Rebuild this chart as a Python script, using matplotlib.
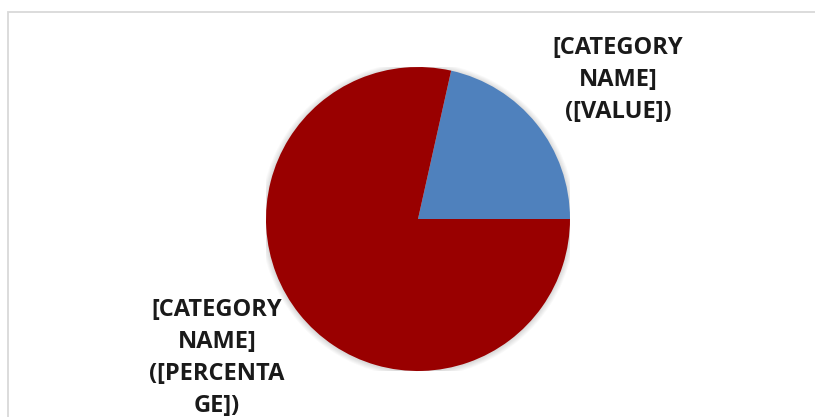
import matplotlib.pyplot as plt
from matplotlib.patches import Rectangle, Circle

# Pie data (two categories, placeholder labels)
categories = ["[CATEGORY\nNAME]\n([VALUE])", "[CATEGORY\nNAME]\n([PERCENTA\nGE])"]
values = [21.5, 78.5]
colors = ["#4F81BD", "#990000"]

W, H = 815, 417
fig = plt.figure(figsize=(W / 100, H / 100), dpi=100)
fig.patch.set_facecolor("white")

# chart frame (light grey border running off the right/bottom edges)
fig.patches.append(Rectangle((8 / W, -0.1), 1.2, (H - 12) / H + 0.1,
                             transform=fig.transFigure, fill=False,
                             edgecolor="#d9d9d9", linewidth=1.3))

cx, cy, r = 418, H - 219, 152
ax = fig.add_axes([(cx - r) / W, (cy - r) / H, 2 * r / W, 2 * r / H])

# soft shadow around the pie
for k in range(1, 7):
    ax.add_patch(Circle((0, -0.004), 1 + k * 0.006, color="black",
                        alpha=0.025, lw=0, zorder=0))

wedges, _ = ax.pie(values, colors=colors, startangle=0, counterclock=True,
                   radius=1, wedgeprops=dict(linewidth=0))
for w in wedges:
    w.set_zorder(2)
ax.set_xlim(-1, 1)
ax.set_ylim(-1, 1)
ax.set_aspect("equal")
ax.axis("off")

font = dict(family=["Open Sans", "DejaVu Sans"], fontweight="bold", fontsize=17,
            color="#1a1a1a", ha="center", va="center", linespacing=1.43)
fig.text(618 / W, 1 - 80 / H, categories[0], **font)
fig.text(217 / W, 1 - 358 / H, categories[1], **font)

fig.savefig("out.png", dpi=100)
